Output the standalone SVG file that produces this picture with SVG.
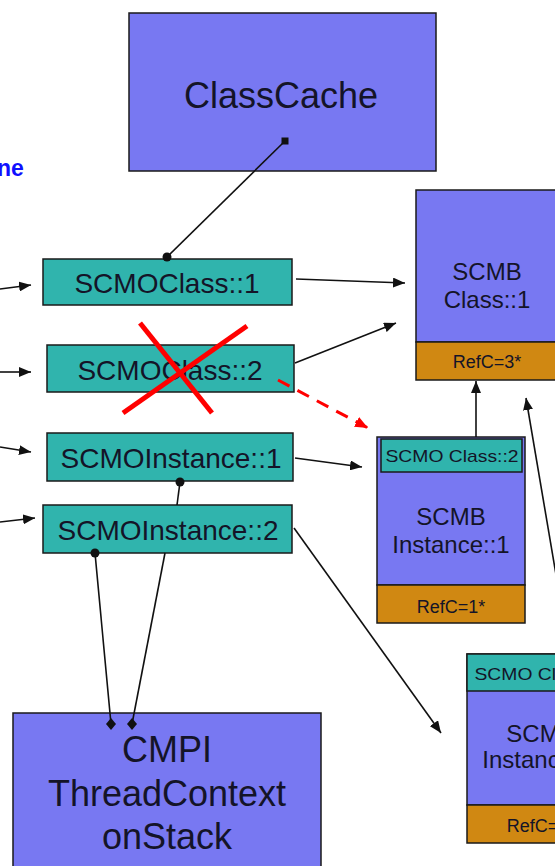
<svg xmlns="http://www.w3.org/2000/svg" width="555" height="866" viewBox="0 0 555 866">
  <style>
    .purple { fill: #7878F2; stroke: #1a1a1a; stroke-width: 1.5; }
    .teal { fill: #30B4AD; stroke: #1a1a1a; stroke-width: 1.5; }
    .orange { fill: #D08812; stroke: #1a1a1a; stroke-width: 1.5; }
    text { font-family: "Liberation Sans", Arial, sans-serif; text-anchor: middle; fill: #141428; }
    .big { font-size: 36px; }
    .mid { font-size: 28px; }
    .blk { font-size: 24px; }
    .hdr { font-size: 17px; }
    .ref { font-size: 18px; }
    .link { stroke: #111; stroke-width: 1.6; fill: none; }
  </style>
  <defs>
    <marker id="arrow" viewBox="0 0 12 10" refX="12" refY="5" markerWidth="12" markerHeight="10" markerUnits="userSpaceOnUse" orient="auto">
      <path d="M0,0 L12,5 L0,10 z" fill="#111"/>
    </marker>
    <marker id="arrowRed" viewBox="0 0 12 10" refX="12" refY="5" markerWidth="13" markerHeight="11" markerUnits="userSpaceOnUse" orient="auto">
      <path d="M0,0 L12,5 L0,10 z" fill="#FF0000"/>
    </marker>
  </defs>

  <!-- heading fragment at the left edge -->
  <text x="-3" y="176" style="font-size:23px;font-weight:bold;fill:#1010FF;text-anchor:start">ne</text>

  <g id="classCache">
    <rect class="purple" x="129" y="13" width="307" height="158"/>
    <text class="big" x="281" y="108">ClassCache</text>
  </g>

  <g id="scmoClass1">
    <rect class="teal" x="43" y="259" width="249" height="46"/>
    <text class="mid" x="167" y="293">SCMOClass::1</text>
  </g>

  <g id="scmoClass2">
    <rect class="teal" x="47" y="345" width="247" height="47"/>
    <text class="mid" x="170" y="380">SCMOClass::2</text>
  </g>

  <g id="scmoInstance1">
    <rect class="teal" x="47" y="433" width="246" height="48"/>
    <text class="mid" x="171" y="468">SCMOInstance::1</text>
  </g>

  <g id="scmoInstance2">
    <rect class="teal" x="43" y="505" width="249" height="48"/>
    <text class="mid" x="168" y="540">SCMOInstance::2</text>
  </g>

  <g id="threadContext">
    <rect class="purple" x="13" y="713" width="308" height="170"/>
    <text class="big" x="167" y="762">CMPI</text>
    <text class="big" x="167" y="806">ThreadContext</text>
    <text class="big" x="167" y="849">onStack</text>
  </g>

  <g id="scmbClass1">
    <rect class="purple" x="416" y="190" width="142" height="152"/>
    <rect class="orange" x="416" y="342" width="142" height="38"/>
    <text class="blk" x="487" y="280">SCMB</text>
    <text class="blk" x="487" y="308">Class::1</text>
    <text class="ref" x="487" y="368">RefC=3*</text>
  </g>

  <g id="scmbInstance1">
    <rect class="purple" x="377" y="437" width="148" height="148"/>
    <rect class="teal" x="381" y="439" width="141" height="33"/>
    <rect class="orange" x="377" y="585" width="148" height="38"/>
    <text class="hdr" x="452" y="462" textLength="133" lengthAdjust="spacingAndGlyphs">SCMO Class::2</text>
    <text class="blk" x="451" y="525">SCMB</text>
    <text class="blk" x="451" y="553">Instance::1</text>
    <text class="ref" x="451" y="613">RefC=1*</text>
  </g>

  <g id="scmbInstance2">
    <rect class="purple" x="467" y="654" width="148" height="151"/>
    <rect class="teal" x="467" y="654" width="148" height="37"/>
    <rect class="orange" x="467" y="805" width="148" height="38"/>
    <text class="hdr" x="541" y="680" textLength="133" lengthAdjust="spacingAndGlyphs">SCMO Class::1</text>
    <text class="blk" x="541" y="742">SCMB</text>
    <text class="blk" x="541" y="768">Instance::2</text>
    <text class="ref" x="541" y="832">RefC=1*</text>
  </g>

  <g id="connectors">
    <!-- references coming in from the left -->
    <line class="link" x1="0" y1="289" x2="31" y2="285" marker-end="url(#arrow)"/>
    <line class="link" x1="0" y1="372" x2="31" y2="372" marker-end="url(#arrow)"/>
    <line class="link" x1="0" y1="447" x2="31" y2="452" marker-end="url(#arrow)"/>
    <line class="link" x1="0" y1="522" x2="35" y2="518" marker-end="url(#arrow)"/>

    <!-- class cache holds SCMOClass::1 -->
    <line class="link" x1="285" y1="141" x2="167" y2="257"/>
    <rect x="281.5" y="137.5" width="7" height="7" fill="#111"/>
    <circle cx="167" cy="257" r="4.5" fill="#111"/>

    <!-- SCMO objects to their SCMB blocks -->
    <line class="link" x1="296" y1="279" x2="405" y2="283" marker-end="url(#arrow)"/>
    <line class="link" x1="295" y1="363" x2="396" y2="323" marker-end="url(#arrow)"/>
    <line class="link" x1="295" y1="458" x2="362" y2="467" marker-end="url(#arrow)"/>
    <line class="link" x1="294" y1="528" x2="441" y2="733" marker-end="url(#arrow)"/>

    <!-- embedded class headers refer back to the class block -->
    <line class="link" x1="476" y1="437" x2="476" y2="381" marker-end="url(#arrow)"/>
    <line class="link" x1="562" y1="610" x2="526" y2="398" marker-end="url(#arrow)"/>

    <!-- instance links -->
    <line class="link" x1="180" y1="482" x2="177" y2="505"/>
    <circle cx="180" cy="482" r="4.5" fill="#111"/>
    <line class="link" x1="95" y1="553" x2="111" y2="724"/>
    <circle cx="95" cy="553" r="4.5" fill="#111"/>
    <line class="link" x1="165" y1="553" x2="132" y2="724"/>
    <path d="M111,718 L116,724 L111,730 L106,724 z" fill="#111"/>
    <path d="M132,718 L137,724 L132,730 L127,724 z" fill="#111"/>

    <!-- released class: dashed red reference and cross -->
    <line x1="278" y1="380" x2="368" y2="428" stroke="#FF0000" stroke-width="3" stroke-dasharray="13 9" marker-end="url(#arrowRed)"/>
    <line x1="140" y1="323" x2="212" y2="413" stroke="#FF0000" stroke-width="5"/>
    <line x1="247" y1="326" x2="123" y2="413" stroke="#FF0000" stroke-width="5"/>
  </g>
</svg>
